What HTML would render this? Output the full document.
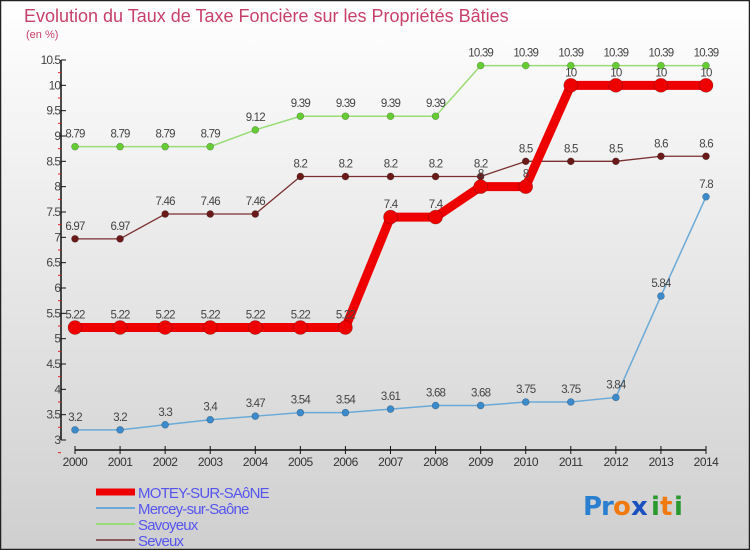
<!DOCTYPE html>
<html><head><meta charset="utf-8"><style>
body{margin:0}
svg{display:block;font-family:"Liberation Sans",sans-serif}
</style></head><body>
<svg id="c" width="750" height="550" xmlns="http://www.w3.org/2000/svg">
<defs><linearGradient id="bg" x1="0" y1="0" x2="0" y2="1"><stop offset="0" stop-color="#ffffff"/><stop offset="1" stop-color="#cfcfcf"/></linearGradient></defs>
<rect x="0.5" y="0.5" width="749" height="549" fill="url(#bg)" stroke="#222" stroke-width="1.5"/>
<text x="24" y="22" font-size="18" fill="#c8406a">Evolution du Taux de Taxe Foncière sur les Propriétés Bâties</text>
<text x="26" y="38" font-size="11" fill="#c8406a">(en %)</text>
<g id="axes"></g><g id="series"></g><g id="legend"></g>
<g font-size="26" font-family="'DejaVu Sans',sans-serif" font-weight="bold">
<text x="583" y="515" fill="#2a7fd0">P</text><text x="601" y="515" fill="#2a7fd0">r</text><text x="613" y="515" fill="#f07a10">o</text><text x="631" y="515" fill="#1a50c0">x</text><text x="651" y="515" fill="#2a9a30">i</text><text x="660" y="515" fill="#f07a10">t</text><text x="674" y="515" fill="#2a9a30">i</text>
</g>
</svg>
<script>
const years=[2000,2001,2002,2003,2004,2005,2006,2007,2008,2009,2010,2011,2012,2013,2014];
const motey=[5.22,5.22,5.22,5.22,5.22,5.22,5.22,7.4,7.4,8,8,10,10,10,10];
const mercey=[3.2,3.2,3.3,3.4,3.47,3.54,3.54,3.61,3.68,3.68,3.75,3.75,3.84,5.84,7.8];
const savoyeux=[8.79,8.79,8.79,8.79,9.12,9.39,9.39,9.39,9.39,10.39,10.39,10.39,10.39,10.39,10.39];
const seveux=[6.97,6.97,7.46,7.46,7.46,8.2,8.2,8.2,8.2,8.2,8.5,8.5,8.5,8.6,8.6];
const yTicks=[3,3.5,4,4.5,5,5.5,6,6.5,7,7.5,8,8.5,9,9.5,10,10.5];
const NS="http://www.w3.org/2000/svg";
const X=i=>75+i*(706-75)/(years.length-1);
const Y=v=>440-(v-3)*(380/7.5);
function mk(t,a,p){const e=document.createElementNS(NS,t);for(const k in a)e.setAttribute(k,a[k]);p.appendChild(e);return e;}
const ax=document.getElementById('axes');
const yl=mk('line',{x1:61,y1:Y(10.5),x2:61,y2:Y(3),stroke:'#111','stroke-width':1.5},ax);


yTicks.forEach(v=>{
 const t=mk('line',{x1:61,x2:66,y1:Y(v),y2:Y(v),stroke:'#111'},ax);
 
 
 const m=mk('line',{x1:58,x2:61,y1:Y(v)+12.67,y2:Y(v)+12.67,stroke:'#e02020'},ax);
 
 
 const l=mk('text',{x:60,y:Y(v)+4,'text-anchor':'end','font-size':12,fill:'#444','letter-spacing':'-1'},ax);
 l.textContent=String(v);
 
 
});
const xl=mk('line',{x1:X(0),y1:450,x2:X(years.length-1),y2:450,stroke:'#111','stroke-width':1.5},ax);


years.forEach((y,i)=>{
 const t=mk('line',{x1:X(i),x2:X(i),y1:446,y2:454,stroke:'#111'},ax);
 
 
 const l=mk('text',{x:X(i),y:466,'text-anchor':'middle','font-size':12,fill:'#333','letter-spacing':'-0.5'},ax);
 l.textContent=y;
 
 
});
const S=document.getElementById('series');
const defs=[
 {d:seveux,c:'#6b1a1a',lc:'#7a3030',w:1.3,r:3.5,n:'seveux'},
 {d:savoyeux,c:'#66cc33',lc:'#99dd77',w:1.5,r:3.5,n:'savoyeux'},
 {d:mercey,c:'#3a8acc',lc:'#6aaad8',w:1.5,r:3.5,n:'mercey'},
 {d:motey,c:'#ee0000',lc:'#ee0000',w:9,r:7,n:'motey'}
];
defs.forEach(s=>{
 const g=mk('g',{},S);
 
 
 const p=mk('polyline',{points:s.d.map((v,i)=>X(i)+','+Y(v)).join(' '),fill:'none',stroke:s.lc,'stroke-width':s.w,'stroke-linejoin':'round'},g);
 
 
 s.d.forEach((v,i)=>{
  const c=mk('circle',{cx:X(i),cy:Y(v),r:s.r,fill:s.c,stroke:'rgba(0,0,0,0.3)','stroke-width':0.6},g);
  
  
  const t=mk('text',{x:X(i),y:Y(v)-9,'text-anchor':'middle','font-size':11.5,fill:'#444','letter-spacing':'-0.8'},g);
  t.textContent=String(v);
  
  
 });
});
const L=document.getElementById('legend');
const leg=[['MOTEY-SUR-SAôNE','#ee0000',7],['Mercey-sur-Saône','#6aaad8',2],['Savoyeux','#99dd77',2],['Seveux','#8a5a5a',2]];
leg.forEach((e,i)=>{
 const y=492+i*16;
 const g=mk('g',{},L);
 
 
 mk('line',{x1:96,x2:135,y1:y,y2:y,stroke:e[1],'stroke-width':e[2]},g);
 const t=mk('text',{x:138,y:y+6,'font-size':15,fill:'#5555ee','letter-spacing':'-0.8'},g);
 t.textContent=e[0];
});
</script>
</body></html>
